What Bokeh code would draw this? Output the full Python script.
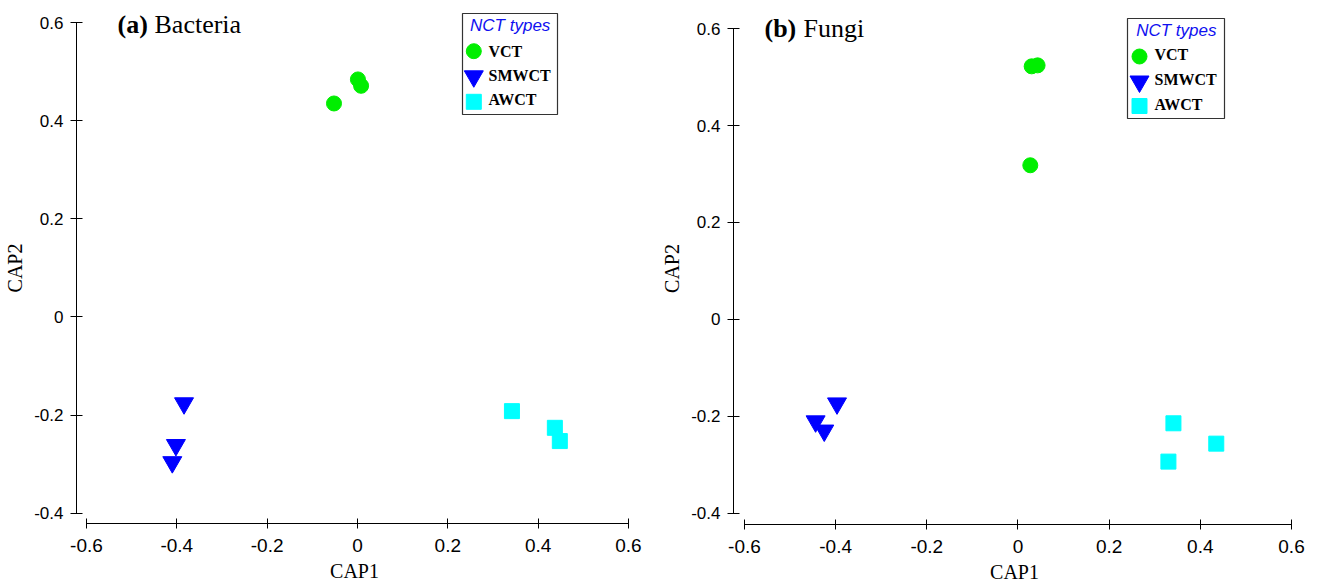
from bokeh.plotting import figure
from bokeh.layouts import row
from bokeh.models import Range1d, Label, FixedTicker
from bokeh.embed import file_html
from bokeh.resources import INLINE

# ---------------- data ----------------
groups = ["VCT", "SMWCT", "AWCT"]
group_colors = ["#00EE00", "#0000FF", "#00FFFF"]
group_markers = ["circle", "inverted_triangle", "square"]

bac_vct_x = [-0.052, 0.001, 0.008]
bac_vct_y = [0.435, 0.484, 0.471]
bac_smwct_x = [-0.384, -0.402, -0.410]
bac_smwct_y = [-0.176, -0.261, -0.296]
bac_awct_x = [0.342, 0.437, 0.448]
bac_awct_y = [-0.192, -0.226, -0.253]

fun_vct_x = [0.030, 0.043, 0.027]
fun_vct_y = [0.522, 0.524, 0.318]
fun_smwct_x = [-0.444, -0.425, -0.397]
fun_smwct_y = [-0.210, -0.229, -0.173]
fun_awct_x = [0.341, 0.330, 0.435]
fun_awct_y = [-0.214, -0.293, -0.256]

x_ticks = [-0.6, -0.4, -0.2, 0, 0.2, 0.4, 0.6]
x_tick_labels = ["-0.6", "-0.4", "-0.2", "0", "0.2", "0.4", "0.6"]
y_ticks = [-0.4, -0.2, 0, 0.2, 0.4, 0.6]
y_tick_labels = ["-0.4", "-0.2", "0", "0.2", "0.4", "0.6"]

legend_title = "NCT types"
x_title = "CAP1"
y_title = "CAP2"


def make_panel(tag, name, xs, ys, fw, fh, xr, yr, mbl, mbr, mbb,
               leg_box, leg_title_xy, leg_mark_x, leg_rows_y, leg_text_x,
               title_xy, name_x):
    p = figure(frame_width=fw, frame_height=fh,
               x_range=Range1d(*xr), y_range=Range1d(*yr),
               output_backend="svg", toolbar_location=None,
               min_border_left=mbl, min_border_right=mbr,
               min_border_top=12, min_border_bottom=mbb)
    p.extra_x_ranges = {"px": Range1d(0, fw)}
    p.extra_y_ranges = {"px": Range1d(0, fh)}
    p.outline_line_color = None
    p.xgrid.visible = False
    p.ygrid.visible = False
    p.background_fill_color = "white"
    p.border_fill_color = "white"

    # axes
    p.xaxis.bounds = (x_ticks[0], x_ticks[-1])
    p.xaxis.ticker = FixedTicker(ticks=x_ticks)
    p.xaxis.major_label_overrides = dict(zip(x_ticks, x_tick_labels))
    p.xaxis.major_tick_in = 5
    p.xaxis.major_tick_out = 5
    p.xaxis.minor_tick_line_color = None
    p.xaxis.major_label_text_font = "Liberation Sans"
    p.xaxis.major_label_text_font_size = "19px"
    p.xaxis.major_label_standoff = 10
    p.xaxis.axis_label = x_title
    p.xaxis.axis_label_text_font = "Liberation Serif"
    p.xaxis.axis_label_text_font_style = "normal"
    p.xaxis.axis_label_text_font_size = "20px"
    p.xaxis.axis_label_standoff = 5

    p.yaxis.bounds = (y_ticks[0], y_ticks[-1])
    p.yaxis.ticker = FixedTicker(ticks=y_ticks)
    p.yaxis.major_label_overrides = dict(zip(y_ticks, y_tick_labels))
    p.yaxis.major_tick_in = 6
    p.yaxis.major_tick_out = 6
    p.yaxis.minor_tick_line_color = None
    p.yaxis.major_label_text_font = "Liberation Sans"
    p.yaxis.major_label_text_font_size = "17px"
    p.yaxis.major_label_standoff = 7
    p.yaxis.axis_label = y_title
    p.yaxis.axis_label_text_font = "Liberation Serif"
    p.yaxis.axis_label_text_font_style = "normal"
    p.yaxis.axis_label_text_font_size = "20px"
    p.yaxis.axis_label_standoff = 5
    for ax in (p.xaxis, p.yaxis):
        ax.axis_line_color = "black"
        ax.major_tick_line_color = "black"
        ax.major_label_text_color = "black"
        ax.axis_label_text_color = "black"

    # data
    sizes = [15, 19, 15]
    for (gx, gy), c, m, s in zip(zip(xs, ys), group_colors, group_markers, sizes):
        p.scatter(gx, gy, marker=m, size=s, fill_color=c, line_color=c)

    # legend (drawn in frame pixel space)
    l, r, b, t = leg_box
    p.quad(left=[l], right=[r], bottom=[b], top=[t], x_range_name="px", y_range_name="px",
           fill_color="white", line_color="#333333", line_width=1.2)
    for g, c, m, s, yy in zip(groups, group_colors, group_markers, sizes, leg_rows_y):
        p.scatter([leg_mark_x], [yy[0]], marker=m, size=s, fill_color=c, line_color=c,
                  x_range_name="px", y_range_name="px")
        p.add_layout(Label(x=leg_text_x, y=yy[1], text=g, x_range_name="px", y_range_name="px",
                           text_font="Liberation Serif", text_font_style="bold",
                           text_font_size="16px", text_baseline="middle", text_color="black"))
    p.add_layout(Label(x=leg_title_xy[0], y=leg_title_xy[1], text=legend_title,
                       x_range_name="px", y_range_name="px",
                       text_font="Liberation Sans", text_font_style="italic",
                       text_font_size="17px", text_align="center", text_baseline="middle",
                       text_color="#1010F0"))
    # panel title
    p.add_layout(Label(x=title_xy[0], y=title_xy[1], text=tag, x_range_name="px", y_range_name="px",
                       text_font="Liberation Serif", text_font_style="bold",
                       text_font_size="26px", text_baseline="middle", text_color="black"))
    p.add_layout(Label(x=name_x, y=title_xy[1], text=name, x_range_name="px", y_range_name="px",
                       text_font="Liberation Serif", text_font_style="normal",
                       text_font_size="26px", text_baseline="middle", text_color="black"))
    return p


pa = make_panel("(a)", "Bacteria",
                [bac_vct_x, bac_smwct_x, bac_awct_x], [bac_vct_y, bac_smwct_y, bac_awct_y],
                556, 511, (-0.6221, 0.6089), (-0.421, 0.6204), 76, 24, 50,
                (386, 481, 409, 510), (433.7, 498), 397.3,
                [(472.3, 472.3), (447.2, 447.7), (421.7, 423.7)], 412,
                (41, 499), 78)
pb = make_panel("(b)", "Fungi",
                [fun_vct_x, fun_smwct_x, fun_awct_x], [fun_vct_y, fun_smwct_y, fun_awct_y],
                562, 512, (-0.6241, 0.6088), (-0.4227, 0.633), 77, 12, 49,
                (394, 491, 406, 506), (442.8, 494), 406,
                [(468, 469.7), (443, 445), (418.5, 420)], 421,
                (31, 496), 70)

layout = row(pa, pb)
open("out.html", "w").write(file_html(layout, INLINE))
